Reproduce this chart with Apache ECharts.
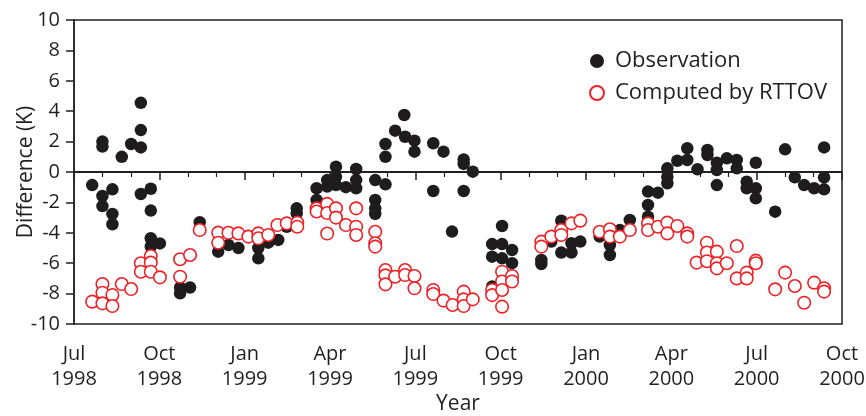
<!DOCTYPE html>
<html>
<head>
<meta charset="utf-8">
<script src="https://cdn.jsdelivr.net/npm/echarts@6/dist/echarts.min.js"></script>
<style>
html,body{margin:0;padding:0;background:#fff;}
#chart{width:866px;height:416px;}
</style>
</head>
<body>
<div id="chart"></div>
<script>
// x values are months since 1 Jul 1998 (0 = Jul 1998, 27 = Oct 2000)
var xTickLabels = ['Jul\n1998','Oct\n1998','Jan\n1999','Apr\n1999','Jul\n1999','Oct\n1999','Jan\n2000','Apr\n2000','Jul\n2000','Oct\n2000'];
var yTicks = [-10,-8,-6,-4,-2,0,2,4,6,8,10];

// Observation (black filled)
var obsMonth = [
 0.64, 1.0,1.0,1.0,1.0, 1.35,1.35,1.35, 1.68, 2.01, 2.35,2.35,2.35,2.35,
 2.70,2.70,2.70,2.70, 3.02, 3.73,3.73, 4.08, 4.42,
 5.07, 5.43, 5.78, 6.48,6.48, 6.83, 7.18, 7.48, 7.83,7.83,
 8.53,8.53, 8.9,8.9, 9.21,9.21,9.21, 9.56, 9.92,9.92,9.92,
 10.59,10.59,10.59,10.59, 10.95,10.95,10.95, 11.29, 11.61, 11.64, 11.97,11.97,
 12.63,12.63, 12.99, 13.29, 13.70,13.70,13.70, 14.02,
 14.70,14.70,14.70, 15.05,15.05,15.05, 15.40,15.40,
 16.43,16.43, 16.78, 17.13,17.13, 17.49,17.49, 17.80,
 18.48, 18.84,18.84, 19.19, 19.54, 20.18,20.18,20.18, 20.53,
 20.86,20.86,20.86, 21.21, 21.56,21.56, 21.92, 22.27,22.27,
 22.60,22.60,22.60, 22.95, 23.30,23.30, 23.65,23.65, 23.97,23.97,23.97,
 24.65, 25.0, 25.34, 25.67, 26.02, 26.37,26.37,26.37
];
var obsDiff = [
 -0.86, 2.0,1.67,-1.58,-2.24, -1.14,-2.76,-3.44, 1.0, 1.84, 4.55,2.76,1.62,-1.45,
 -1.1,-2.54,-4.36,-4.9, -4.7, -7.6,-7.98, -7.6, -3.3,
 -5.24, -4.8, -5.0, -5.0,-5.68, -4.65, -4.47, -3.6, -2.39,-2.72,
 -1.07,-1.84, -0.53,-0.96, 0.35,-0.31,-0.86, -1.0, 0.2,-0.53,-1.07,
 -0.53,-1.84,-2.39,-2.76, -0.81,1.84,1.0, 2.72, 3.75, 2.32, 2.06,1.34,
 1.89,-1.25, 1.34, -3.92, 0.83,0.53,-1.25, 0.02,
 -4.74,-5.57,-7.54, -3.55,-4.74,-5.68, -5.13,-6.0,
 -5.79,-6.05, -4.58, -3.2,-5.3, -4.69,-5.3, -4.58,
 -4.25, -4.8,-5.46, -3.82, -3.16, -1.29,-2.17,-2.94, -1.36,
 0.24,-0.31,-0.74, 0.74, 1.56,0.79, 0.18, 1.45,1.12,
 0.61,0.13,-0.86, 0.9, 0.79,0.24, -0.64,-1.07, 0.61,-1.07,-1.73,
 -2.61, 1.49, -0.35, -0.86, -1.07, 1.62,-0.35,-1.14
];

// Computed by RTTOV (red hollow)
var rttMonth = [
 0.64, 1.0,1.0,1.0, 1.35,1.35, 1.68, 2.01, 2.35,2.35, 2.70,2.70,2.70, 3.02,
 3.73,3.73, 4.08, 4.42,
 5.07,5.07, 5.43, 5.78, 6.13, 6.48,6.48, 6.83, 7.15, 7.48, 7.85,7.85,
 8.53,8.53, 8.9,8.9,8.9, 9.21,9.21, 9.56, 9.92,9.92,9.92,
 10.59,10.59,10.59, 10.95,10.95,10.95, 11.29, 11.64,11.64, 11.97,11.97,
 12.63,12.63, 12.99, 13.31, 13.70,13.70,13.70, 14.02,
 14.70,14.70, 15.05,15.05,15.05,15.05, 15.40,15.40,
 16.43,16.43, 16.78, 17.13,17.13, 17.49, 17.80,
 18.48, 18.84,18.84, 19.19, 19.54, 20.18,20.18, 20.53, 20.86,20.86, 21.21,
 21.56,21.56, 21.89, 22.25,22.25,22.25, 22.60,22.60,22.60, 22.95,
 23.30,23.30, 23.65,23.65, 23.97,23.97,
 24.65, 25.0, 25.34, 25.67, 26.02, 26.37,26.37
];
var rttDiff = [
 -8.53, -7.37,-7.94,-8.64, -8.09,-8.82, -7.37, -7.7, -6.0,-6.56, -5.53,-5.96,-6.56, -6.93,
 -5.74,-6.89, -5.46, -3.82,
 -3.99,-4.65, -4.0, -4.04, -4.25, -4.04,-4.36, -4.14, -3.49, -3.38, -3.33,-3.6,
 -2.39,-2.6, -2.1,-2.7,-4.05, -2.39,-3.0, -3.49, -2.39,-3.6,-4.14,
 -3.93,-4.69,-4.91, -6.45,-6.8,-7.39, -6.89, -6.45,-6.78, -6.84,-7.65,
 -7.76,-8.03, -8.46, -8.75, -7.87,-8.38,-8.82, -8.38,
 -7.76,-8.1, -6.56,-7.2,-7.76,-8.86, -6.84,-7.2,
 -4.58,-4.91, -4.25, -3.82,-4.14, -3.38, -3.2,
 -3.93, -3.77,-4.25, -4.25, -3.82, -3.38,-3.82, -3.6, -3.33,-4.04, -3.55,
 -4.04,-4.25, -5.96, -4.65,-5.3,-5.87, -5.24,-6.0,-6.34, -6.0,
 -4.87,-7.0, -6.62,-7.0, -5.83,-6.0,
 -7.72, -6.62, -7.5, -8.6, -7.28, -7.65,-7.87
];

function pairs(xs, ys){ return xs.map(function(x,i){ return [x, ys[i]]; }); }

var ink = '#231f20';
var red = '#ec2227';
var font = 'Open Sans';

var chart = echarts.init(document.getElementById('chart'), null, {renderer:'canvas'});
chart.setOption({
  animation:false,
  backgroundColor:'#ffffff',
  textStyle:{fontFamily:font, color:ink},
  grid:{left:74, right:24, top:20, bottom:92, show:true, borderColor:ink, borderWidth:1.5,
        backgroundColor:'transparent', outerBoundsMode:'none', containLabel:false},
  legend:{
    orient:'vertical', left:584, top:44,
    itemWidth:14, itemHeight:14, itemGap:8,
    textStyle:{fontFamily:font, fontSize:22, lineHeight:24, color:ink, padding:[0,0,0,6]},
    data:[{name:'Observation', icon:'circle'},{name:'Computed by RTTOV', icon:'circle'}]
  },
  xAxis:{
    type:'value', min:0, max:27, interval:3,
    name:'Year', nameLocation:'middle', nameGap:70, nameMoveOverlap:false,
    nameTextStyle:{fontFamily:font, fontSize:21, color:ink},
    axisLine:{lineStyle:{color:ink, width:1.5}},
    axisTick:{show:true, inside:false, length:8, lineStyle:{color:ink, width:1.5}},
    minorTick:{show:true, splitNumber:3, length:5, lineStyle:{color:ink, width:1.2}},
    splitLine:{show:false},
    axisLabel:{fontFamily:font, fontSize:20, color:ink, margin:18, lineHeight:25,
      formatter:function(v){ var i = Math.round(v/3); return xTickLabels[i] || ''; }}
  },
  yAxis:{
    type:'value', min:yTicks[0], max:yTicks[yTicks.length-1], interval:2,
    name:'Difference (K)', nameLocation:'middle', nameGap:37, nameMoveOverlap:false,
    nameTextStyle:{fontFamily:font, fontSize:21, color:ink},
    axisLine:{show:true, lineStyle:{color:ink, width:1.5}},
    axisTick:{show:true, inside:false, length:8, lineStyle:{color:ink, width:1.5}},
    splitLine:{show:false},
    axisLabel:{fontFamily:font, fontSize:20, color:ink, margin:14}
  },
  series:[
    {
      name:'Observation', type:'scatter', symbol:'circle', symbolSize:12.5,
      itemStyle:{color:'#1f1c1d', opacity:1},
      data:pairs(obsMonth, obsDiff),
      markLine:{silent:true, symbol:['none','none'], label:{show:false},
        lineStyle:{color:ink, width:2, type:'solid'}, data:[{yAxis:0}]},
      z:2
    },
    {
      name:'Computed by RTTOV', type:'scatter', symbol:'circle', symbolSize:12.5,
      itemStyle:{color:'#ffffff', borderColor:red, borderWidth:1.6, opacity:1},
      data:pairs(rttMonth, rttDiff),
      z:3
    }
  ]
});
</script>
</body>
</html>
